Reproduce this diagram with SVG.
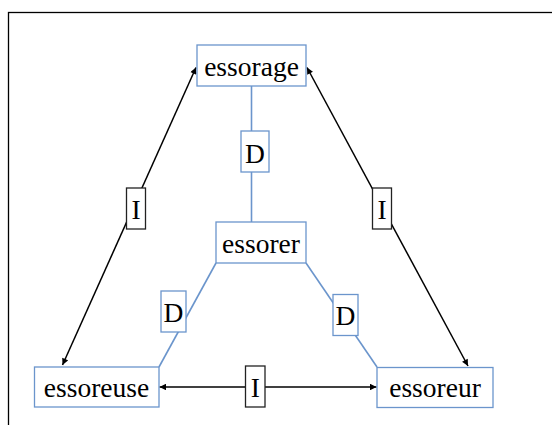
<svg xmlns="http://www.w3.org/2000/svg" width="552" height="425" viewBox="0 0 552 425">
<defs>
<style>
.node rect{fill:#fff;stroke:#6b95cc;stroke-width:1.3}
.lbl rect{fill:#fff;stroke-width:1.3}
.lbl.d rect{stroke:#6b95cc}
.lbl.i rect{stroke:#222}
text{font-family:"Liberation Serif","Times New Roman",serif;font-size:27.5px;fill:#000;text-anchor:middle}
.blue{stroke:#6b95cc;stroke-width:1.6;fill:none}
.blk{stroke:#000;stroke-width:1.5;fill:none;marker-start:url(#ah);marker-end:url(#ah)}
</style>
<marker id="ah" viewBox="0 0 10 10" refX="10" refY="5" markerWidth="8" markerHeight="6.5" markerUnits="userSpaceOnUse" orient="auto-start-reverse">
<path d="M0,0 L10,5 L0,10 z" fill="#000"/>
</marker>
</defs>
<rect x="8.5" y="12.5" width="560" height="430" fill="#fff" stroke="#000" stroke-width="1.3"/>
<g id="connectors">
<line class="blue" x1="251.5" y1="86" x2="251.5" y2="222"/>
<line class="blue" x1="216" y1="263" x2="159" y2="367"/>
<line class="blue" x1="306" y1="263" x2="377" y2="367"/>
<line class="blk" x1="62.5" y1="365" x2="196" y2="67.5"/>
<line class="blk" x1="468" y1="366" x2="307" y2="67.5"/>
<line class="blk" x1="159.5" y1="387" x2="376.5" y2="387"/>
</g>
<g id="essorage" class="node"><rect x="197" y="45" width="109" height="41"/><text x="251.5" y="76">essorage</text></g>
<g id="essorer" class="node"><rect x="216" y="222" width="90" height="41"/><text x="261" y="252.7">essorer</text></g>
<g id="essoreuse" class="node"><rect x="34.5" y="367" width="124.5" height="40"/><text x="96.5" y="397.3">essoreuse</text></g>
<g id="essoreur" class="node"><rect x="377" y="367.5" width="116" height="40"/><text x="435" y="397.3">essoreur</text></g>
<g id="label-d-top" class="lbl d"><rect x="241" y="131" width="28" height="41"/><text x="255" y="163.3">D</text></g>
<g id="label-d-left" class="lbl d"><rect x="161" y="291" width="25" height="41"/><text x="173.5" y="322.3">D</text></g>
<g id="label-d-right" class="lbl d"><rect x="333" y="294.5" width="25" height="41"/><text x="345.5" y="325">D</text></g>
<g id="label-i-left" class="lbl i"><rect x="126.5" y="188" width="19" height="41"/><text x="136" y="219">I</text></g>
<g id="label-i-right" class="lbl i"><rect x="372.5" y="188" width="19" height="41"/><text x="382" y="219">I</text></g>
<g id="label-i-bottom" class="lbl i"><rect x="245.5" y="366" width="19.5" height="41"/><text x="255.3" y="396.7">I</text></g>
</svg>
